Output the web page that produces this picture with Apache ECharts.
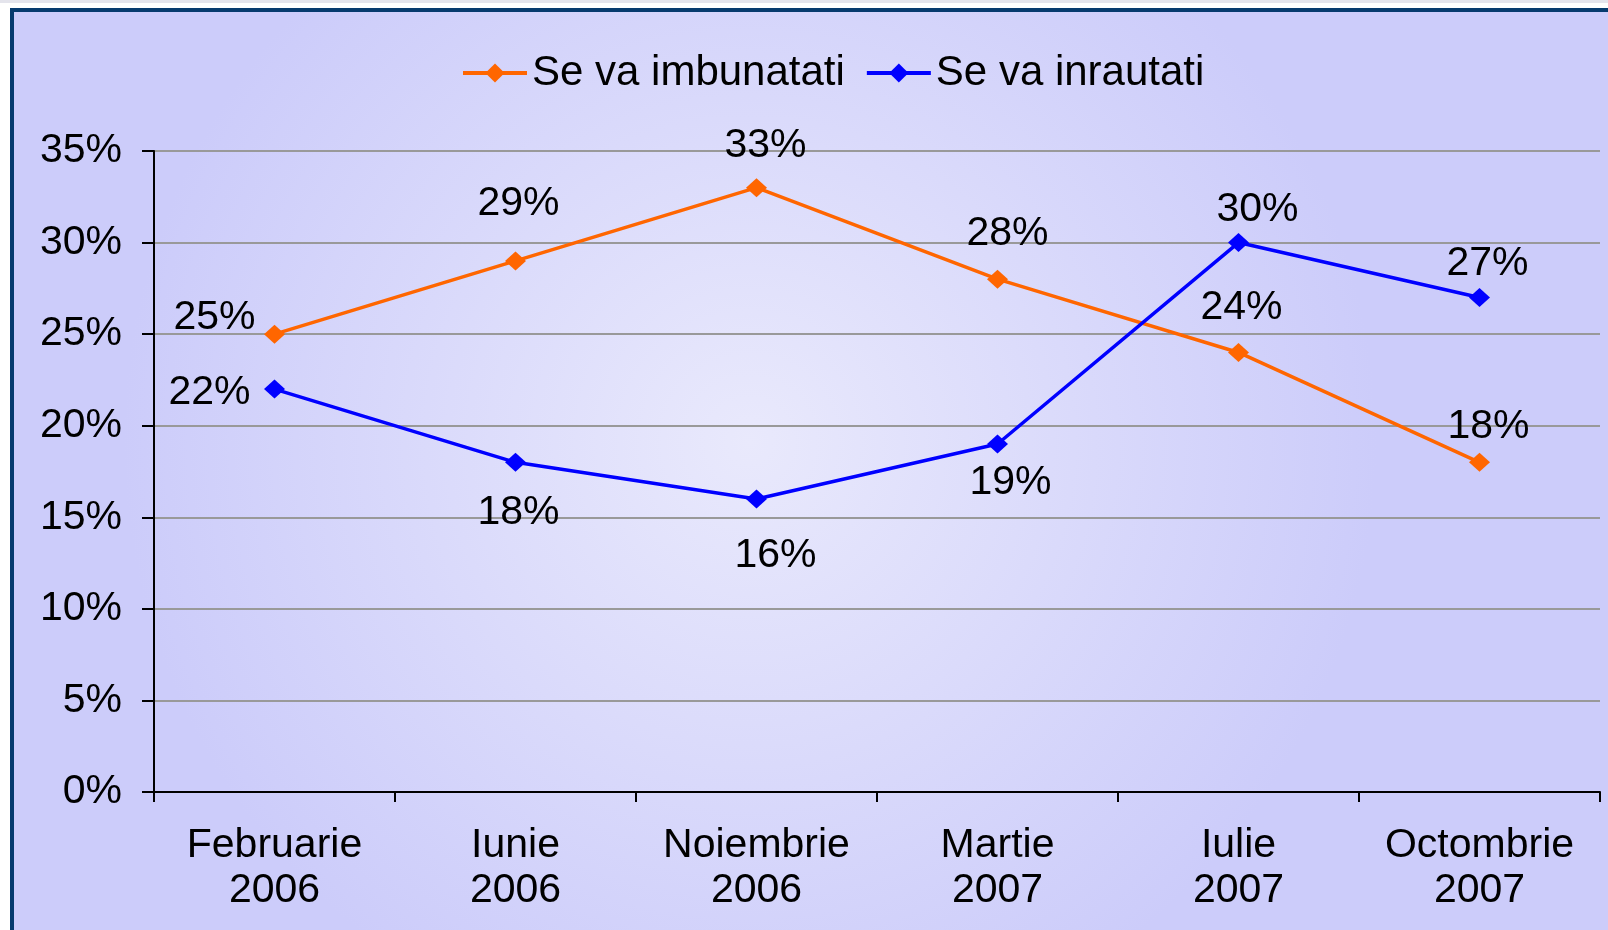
<!DOCTYPE html>
<html>
<head>
<meta charset="utf-8">
<title>Se va imbunatati / Se va inrautati</title>
<script src="https://cdn.jsdelivr.net/npm/echarts@6/dist/echarts.min.js"></script>
<style>
  html, body { margin: 0; padding: 0; background: #ffffff; }
  #chart { width: 1608px; height: 930px; }
</style>
</head>
<body>
<div id="chart"></div>
<script>
// date din grafic
var categories = ["Februarie\n2006", "Iunie\n2006", "Noiembrie\n2006", "Martie\n2007", "Iulie\n2007", "Octombrie\n2007"];
var imbunatati = [25, 29, 33, 28, 24, 18];
var inrautati = [22, 18, 16, 19, 30, 27];
var yTicks = [0, 5, 10, 15, 20, 25, 30, 35];

// pozitia etichetelor fata de punct (doar aspect)
var offImb = [[-60, -16], [3, -57], [9, -42], [10, -46], [3, -45], [9, -36]];
var offInr = [[-65, 4], [3, 50], [19, 57], [13, 39], [19, -33], [8, -34]];

var FONT = "'Liberation Sans', Arial, sans-serif";

function withLabels(values, offsets) {
  return values.map(function (v, i) {
    return { value: v, label: { offset: offsets[i] } };
  });
}

function makeSeries(name, color, values, offsets) {
  return {
    name: name,
    type: "line",
    data: withLabels(values, offsets),
    symbol: "diamond",
    symbolSize: [21, 19],
    lineStyle: { color: color, width: 3.5 },
    itemStyle: { color: color },
    label: {
      show: true,
      position: "inside",
      formatter: "{c}%",
      color: "#000",
      fontSize: 41,
      fontFamily: FONT,
      align: "center",
      verticalAlign: "middle"
    },
    emphasis: { disabled: true },
    animation: false
  };
}

var myChart = echarts.init(document.getElementById("chart"), null, { renderer: "canvas" });

myChart.setOption({
  backgroundColor: "#ffffff",
  graphic: [
    {
      type: "rect",
      z: -10,
      silent: true,
      shape: { x: 0, y: 0, width: 1608, height: 3 },
      style: { fill: "#e4e4ec" }
    },
    {
      type: "rect",
      z: -10,
      silent: true,
      shape: { x: 12, y: 10, width: 1640, height: 960 },
      style: {
        fill: new echarts.graphic.RadialGradient(0.45, 0.45, 0.65, [
          { offset: 0, color: "#e9e9fc" },
          { offset: 1, color: "#ccccfa" }
        ]),
        stroke: "#063a6e",
        lineWidth: 4
      }
    }
  ],
  legend: {
    left: 456,
    top: 47,
    itemWidth: 64,
    itemHeight: 24,
    itemGap: 20,
    lineStyle: { width: 4 },
    textStyle: { fontSize: 42, fontFamily: FONT, color: "#000" },
    data: ["Se va imbunatati", "Se va inrautati"]
  },
  grid: { left: 154, right: 8, top: 151, bottom: 138, containLabel: false },
  xAxis: {
    type: "category",
    data: categories,
    boundaryGap: true,
    axisLine: { lineStyle: { color: "#000", width: 2 } },
    axisTick: { show: true, length: 10, lineStyle: { color: "#000", width: 2 } },
    axisLabel: {
      color: "#000",
      fontSize: 41,
      fontFamily: FONT,
      lineHeight: 45,
      margin: 31,
      interval: 0
    },
    splitLine: { show: false }
  },
  yAxis: {
    type: "value",
    min: yTicks[0],
    max: yTicks[yTicks.length - 1],
    interval: yTicks[1] - yTicks[0],
    axisLine: { show: true, lineStyle: { color: "#000", width: 2 } },
    axisTick: { show: true, length: 12, lineStyle: { color: "#000", width: 2 } },
    axisLabel: {
      formatter: "{value}%",
      color: "#000",
      fontSize: 41,
      fontFamily: FONT,
      margin: 32
    },
    splitLine: { show: true, lineStyle: { color: "#999999", width: 2 } }
  },
  series: [
    makeSeries("Se va imbunatati", "#ff6600", imbunatati, offImb),
    makeSeries("Se va inrautati", "#0000ff", inrautati, offInr)
  ]
});

window.addEventListener("resize", function () {
  myChart.resize();
});
</script>
</body>
</html>
